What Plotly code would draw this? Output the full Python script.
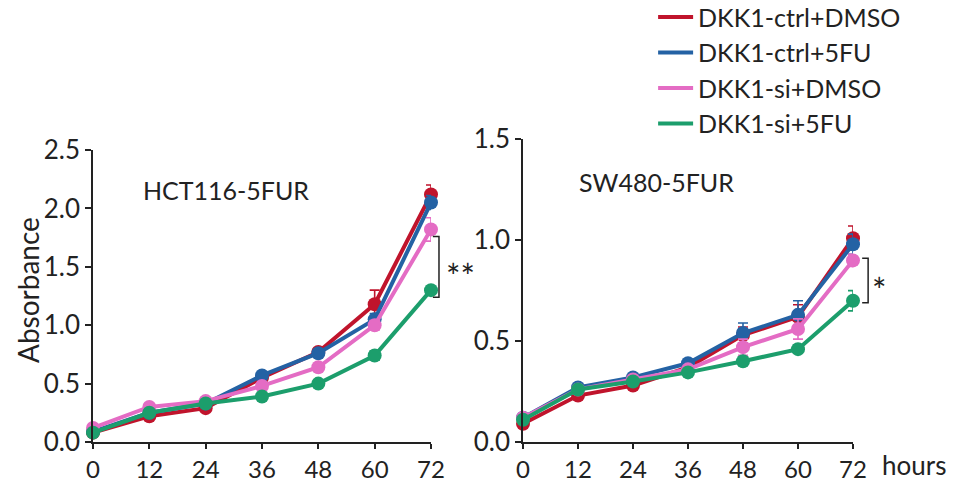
import plotly.graph_objects as go

# ---- data -------------------------------------------------------------
hours = [0, 12, 24, 36, 48, 60, 72]
groups = ["DKK1-ctrl+DMSO", "DKK1-ctrl+5FU", "DKK1-si+DMSO", "DKK1-si+5FU"]
colors = ["#c0142c", "#2462a4", "#e46cc4", "#1c9e6c"]

# HCT116-5FUR absorbance (mean, error)
hct_ctrl_dmso = [0.08, 0.22, 0.29, 0.55, 0.77, 1.18, 2.12]
hct_ctrl_5fu = [0.09, 0.25, 0.33, 0.57, 0.76, 1.05, 2.05]
hct_si_dmso = [0.12, 0.30, 0.35, 0.48, 0.64, 1.00, 1.82]
hct_si_5fu = [0.08, 0.25, 0.33, 0.39, 0.50, 0.74, 1.30]
hct_err_ctrl_dmso = [0.02, 0.02, 0.02, 0.03, 0.03, 0.12, 0.08]
hct_err_ctrl_5fu = [0.02, 0.02, 0.02, 0.03, 0.03, 0.05, 0.06]
hct_err_si_dmso = [0.02, 0.02, 0.02, 0.03, 0.03, 0.04, 0.10]
hct_err_si_5fu = [0.02, 0.02, 0.02, 0.02, 0.02, 0.04, 0.03]

# SW480-5FUR absorbance (mean, error)
sw_ctrl_dmso = [0.09, 0.23, 0.28, 0.37, 0.53, 0.62, 1.01]
sw_ctrl_5fu = [0.12, 0.27, 0.32, 0.39, 0.54, 0.63, 0.98]
sw_si_dmso = [0.12, 0.26, 0.31, 0.36, 0.47, 0.56, 0.90]
sw_si_5fu = [0.11, 0.26, 0.30, 0.345, 0.40, 0.46, 0.70]
sw_err_ctrl_dmso = [0.01, 0.01, 0.01, 0.01, 0.04, 0.06, 0.06]
sw_err_ctrl_5fu = [0.01, 0.01, 0.01, 0.01, 0.05, 0.07, 0.05]
sw_err_si_dmso = [0.01, 0.01, 0.01, 0.01, 0.04, 0.05, 0.03]
sw_err_si_5fu = [0.01, 0.01, 0.01, 0.01, 0.02, 0.02, 0.05]

hct_series = [hct_ctrl_dmso, hct_ctrl_5fu, hct_si_dmso, hct_si_5fu]
hct_errors = [hct_err_ctrl_dmso, hct_err_ctrl_5fu, hct_err_si_dmso, hct_err_si_5fu]
sw_series = [sw_ctrl_dmso, sw_ctrl_5fu, sw_si_dmso, sw_si_5fu]
sw_errors = [sw_err_ctrl_dmso, sw_err_ctrl_5fu, sw_err_si_dmso, sw_err_si_5fu]

# significance brackets at 72 h: (upper, lower, label)
hct_sig = (1.76, 1.24, "**")
sw_sig = (0.91, 0.69, "*")

y_ticks_hct = [0.0, 0.5, 1.0, 1.5, 2.0, 2.5]
y_ticks_sw = [0.0, 0.5, 1.0, 1.5]

# ---- layout geometry ----------------------------------------------------
W, H = 969, 484
FONT = "Lato"
INK = "#222222"

x_dom_l = [93 / W, 431 / W]
x_dom_r = [523 / W, 853 / W]
y_dom = [1 - 442 / H, 1 - 150 / H]
y_dom_r = [1 - 442 / H, 1 - 139.3 / H]
x_rng = [0, 72]
y_rng_l = [0, 2.5]
y_rng_r = [0, 1.5]


def to_paper(v, rng, dom):
    return dom[0] + (v - rng[0]) / (rng[1] - rng[0]) * (dom[1] - dom[0])


fig = go.Figure()

for series, errs, xa, ya in [(hct_series, hct_errors, "x", "y"),
                             (sw_series, sw_errors, "x2", "y2")]:
    for name, vals, err, col in zip(groups, series, errs, colors):
        fig.add_trace(go.Scatter(
            x=hours, y=vals, name=name, xaxis=xa, yaxis=ya,
            mode="lines+markers", showlegend=False, cliponaxis=False,
            line=dict(color=col, width=4),
            marker=dict(color=col, size=14),
            error_y=dict(type="data", array=err, visible=True,
                         color=col, thickness=1.6, width=5),
        ))

# legend entries: plain line samples, one group each for row spacing
for name, col in zip(groups, colors):
    fig.add_trace(go.Scatter(
        x=[None], y=[None], name=name, mode="lines", legendgroup=name,
        line=dict(color=col, width=4), showlegend=True,
    ))

axis_common = dict(
    showline=True, linecolor=INK, linewidth=1.5,
    ticks="outside", tickwidth=1.5, tickcolor=INK,
    showgrid=False, zeroline=False, automargin=False,
)
x_axis_style = dict(axis_common, ticklen=5,
                    tickfont=dict(family=FONT, size=24, color=INK))
y_axis_style = dict(axis_common, ticklen=6,
                    tickfont=dict(family=FONT, size=26, color=INK))

fig.update_layout(
    template="none",
    width=W, height=H,
    margin=dict(l=0, r=0, t=0, b=0, pad=0, autoexpand=False),
    paper_bgcolor="white", plot_bgcolor="white",
    font=dict(family=FONT, color=INK),
    xaxis=dict(domain=x_dom_l, range=x_rng, tickvals=hours, anchor="y", **x_axis_style),
    yaxis=dict(domain=y_dom, range=y_rng_l, tickvals=y_ticks_hct,
               tickformat=".1f", anchor="x", **y_axis_style),
    xaxis2=dict(domain=x_dom_r, range=x_rng, tickvals=hours, anchor="y2", **x_axis_style),
    yaxis2=dict(domain=y_dom_r, range=y_rng_r, tickvals=y_ticks_sw,
                tickformat=".1f", anchor="x2", **y_axis_style),
    legend=dict(x=0.674, y=1.012, xanchor="left", yanchor="top",
                font=dict(family=FONT, size=25, color=INK),
                bgcolor="rgba(0,0,0,0)", itemwidth=35,
                tracegroupgap=1.5, traceorder="normal"),
)

# significance brackets and stars
for sig, xdom, yrng, ydom, x_tip, x_bar, x_star in [
    (hct_sig, x_dom_l, y_rng_l, y_dom, 72.4, 73.7, 78.2),
    (sw_sig, x_dom_r, y_rng_r, y_dom_r, 74.0, 75.3, 77.7),
]:
    hi, lo, label = sig
    xt = to_paper(x_tip, x_rng, xdom)
    xb = to_paper(x_bar, x_rng, xdom)
    yh = to_paper(hi, yrng, ydom)
    yl = to_paper(lo, yrng, ydom)
    fig.add_shape(type="path", xref="paper", yref="paper",
                  path=f"M{xt},{yh} L{xb},{yh} L{xb},{yl} L{xt},{yl}",
                  line=dict(color=INK, width=1.5))
    fig.add_annotation(x=to_paper(x_star, x_rng, xdom),
                       y=to_paper((hi + lo) / 2, yrng, ydom),
                       xref="paper", yref="paper",
                       xanchor="center", yanchor="middle", yshift=-9,
                       text=label, showarrow=False,
                       font=dict(family=FONT, size=34, color=INK))

# panel titles
fig.add_annotation(x=10.2, y=2.16, xref="x", yref="y", text="HCT116-5FUR",
                   xanchor="left", yanchor="middle", showarrow=False,
                   font=dict(family=FONT, size=25, color=INK))
fig.add_annotation(x=11.8, y=1.29, xref="x2", yref="y2", text="SW480-5FUR",
                   xanchor="left", yanchor="middle", showarrow=False,
                   font=dict(family=FONT, size=25, color=INK))

# y-axis label and x unit
fig.add_annotation(x=28 / W, y=1 - 290 / H, xref="paper", yref="paper",
                   text="Absorbance", textangle=-90, showarrow=False,
                   xanchor="center", yanchor="middle",
                   font=dict(family=FONT, size=28, color=INK))
fig.add_annotation(x=880 / W, y=1 - 465 / H, xref="paper", yref="paper",
                   text="hours", showarrow=False,
                   xanchor="left", yanchor="middle",
                   font=dict(family=FONT, size=26, color=INK))

fig.write_html("out.html")
